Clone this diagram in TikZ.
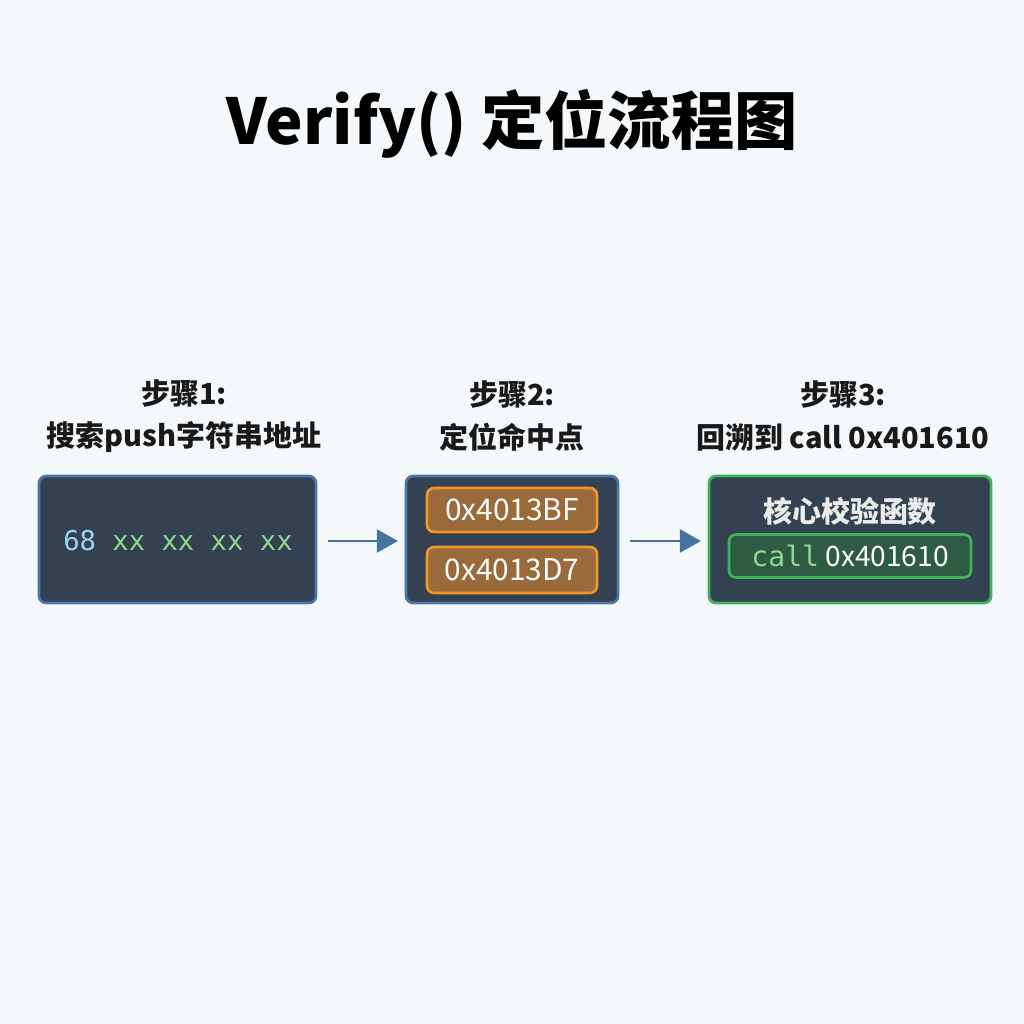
\documentclass[tikz,border=0pt]{standalone}
\usepackage{fontspec}
\setmainfont{Noto Sans CJK SC}
\setmonofont{DejaVu Sans Mono}
\usetikzlibrary{arrows.meta}
\definecolor{bgc}{HTML}{F5F8FB}
\definecolor{panel}{HTML}{344150}
\definecolor{blueedge}{HTML}{4A76A8}
\definecolor{orangec}{HTML}{9A6A3A}
\definecolor{orangeedge}{HTML}{F0962A}
\definecolor{greenedge}{HTML}{3DB35A}
\definecolor{greenfill}{HTML}{2F5A44}
\definecolor{hexblue}{HTML}{9ED4EE}
\definecolor{hexgreen}{HTML}{8FD88F}
\definecolor{arrowc}{HTML}{46729E}
\tikzset{
  panelbox/.style={draw=blueedge, line width=1.5pt, fill=panel, rounded corners=4pt},
  addrbox/.style={draw=orangeedge, line width=1.5pt, fill=orangec, rounded corners=4pt,
    text=white, font=\fontsize{17}{17}\selectfont},
  steplabel/.style={align=center, font=\bfseries\fontsize{16.5}{24}\selectfont, text=black!90},
  flow/.style={draw=arrowc, line width=1.6pt, -{Triangle[length=12pt,width=13pt]},
    shorten <=12*0.02cm, shorten >=8*0.02cm}
}
\begin{document}
\begin{tikzpicture}[x=0.02cm,y=-0.02cm]
\fill[bgc] (0,0) rectangle (1024,1024);
\useasboundingbox (0,0) rectangle (1024,1024);
% title
\node[font=\bfseries\fontsize{36}{40}\selectfont] (title) at (512,124) {Verify() 定位流程图};
% step labels
\node[steplabel] (lab1) at (184,416) {步骤1:\\搜索push字符串地址};
\node[steplabel] (lab2) at (512,416) {步骤2:\\定位命中点};
\node[steplabel] (lab3) at (843,416) {步骤3:\\回溯到 call 0x401610};
% panels
\draw[panelbox] (39,476) rectangle (316,603);
\node (scan) at (178,541) {\fontsize{15.5}{15}\selectfont\ttfamily\color{hexblue}68\hspace{0.6em}\color{hexgreen}xx\hspace{0.6em}xx\hspace{0.6em}xx\hspace{0.6em}xx};
\coordinate (p1) at (316,541);
\draw[panelbox] (406,476) rectangle (618,603);
\coordinate (p2l) at (406,541);
\coordinate (p2r) at (618,541);
\node[addrbox, minimum width=170*0.02cm, minimum height=44*0.02cm] (hitA) at (512,510) {0x4013BF};
\node[addrbox, minimum width=170*0.02cm, minimum height=46*0.02cm] (hitB) at (512,570) {0x4013D7};
\draw[draw=greenedge, line width=1.6pt, fill=panel, rounded corners=4pt] (709,476) rectangle (991,603);
\coordinate (p3) at (709,541);
\node[font=\bfseries\fontsize{16.5}{16}\selectfont, text=white!92!black] (core) at (850,511) {核心校验函数};
\node[draw=greenedge, line width=1.5pt, fill=greenfill, rounded corners=4pt,
  minimum width=242*0.02cm, minimum height=43*0.02cm] (call) at (850,556)
  {\fontsize{16}{16}\selectfont\texttt{\color{hexgreen}call} \color{white}0x401610};
% arrows
\draw[flow] (p1) -- (p2l);
\draw[flow] (p2r) -- (p3);
\end{tikzpicture}
\end{document}
